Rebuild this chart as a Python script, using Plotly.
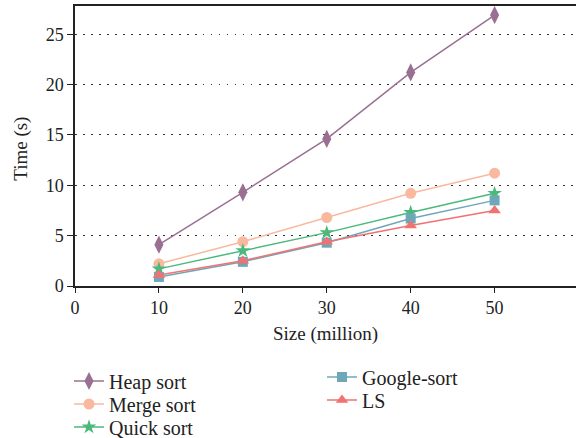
import plotly.graph_objects as go

# Array size in millions of elements
sizes = [10, 20, 30, 40, 50]

# Sorting times in seconds
heap_sort = [4.1, 9.3, 14.6, 21.2, 26.9]
merge_sort = [2.2, 4.4, 6.8, 9.2, 11.2]
quick_sort = [1.7, 3.5, 5.3, 7.3, 9.2]
google_sort = [0.9, 2.4, 4.3, 6.7, 8.5]
ls_sort = [1.1, 2.5, 4.4, 6.0, 7.5]

x_ticks = [0, 10, 20, 30, 40, 50]
y_ticks = [0, 5, 10, 15, 20, 25]

FONT = "Liberation Serif"
INK = "#222222"
W, H = 576, 438
ML, MT, MB = 75, 6, 152

# name, values, colour, marker, marker size, legend slot (left px, centre px)
series = [
    ("Heap sort", heap_sort, "#9a7092", "diamond-tall", 13, (69, 381)),
    ("Merge sort", merge_sort, "#f9b99e", "circle", 11, (69, 404)),
    ("Quick sort", quick_sort, "#4bb97c", "star", 11, (69, 427)),
    ("Google-sort", google_sort, "#6ea7b8", "square", 10, (322, 377)),
    ("LS", ls_sort, "#f07272", "triangle-up", 11, (322, 400)),
]

fig = go.Figure()
legend_font = dict(family=FONT, size=20, color=INK)
legends = {}
for i, (name, vals, color, symbol, size, (lx, ly)) in enumerate(series):
    key = "legend" if i == 0 else f"legend{i + 1}"
    fig.add_trace(go.Scatter(
        x=sizes, y=vals, name=name, mode="lines+markers",
        line=dict(color=color, width=1.5),
        marker=dict(symbol=symbol, size=size, color=color),
        legend=key,
    ))
    legends[key] = dict(
        x=lx / W, xref="container", y=1 - ly / H, yref="container",
        xanchor="left", yanchor="middle", font=legend_font,
        bgcolor="rgba(0,0,0,0)", borderwidth=0,
    )

fig.update_layout(
    width=W, height=H,
    margin=dict(l=ML, r=0, t=MT, b=MB, autoexpand=False),
    plot_bgcolor="white", paper_bgcolor="white",
    font=dict(family=FONT, size=18, color=INK),
    showlegend=True,
    **legends,
)

# Vertical axis title placed beside the tick labels
fig.add_annotation(
    text="Time (s)", textangle=-90, showarrow=False,
    xref="paper", yref="paper", x=(21 - ML) / (W - ML), y=0.49,
    xanchor="center", yanchor="middle",
    font=dict(family=FONT, size=19, color=INK),
)

fig.update_xaxes(
    range=[0, 59.7], tickvals=x_ticks, ticktext=[str(v) for v in x_ticks],
    tickfont=dict(family=FONT, size=18, color=INK),
    showline=True, linecolor=INK, linewidth=1.5, mirror=True,
    ticks="outside", ticklen=5, tickcolor=INK,
    showgrid=False, zeroline=False,
    title=dict(text="Size (million)", font=dict(family=FONT, size=19, color=INK), standoff=9),
)
fig.update_yaxes(
    range=[0, 27.8], tickvals=y_ticks, ticktext=[str(v) for v in y_ticks],
    tickfont=dict(family=FONT, size=18, color=INK),
    showline=True, linecolor=INK, linewidth=1.5,
    ticks="outside", ticklen=6, tickcolor=INK,
    showgrid=True, gridcolor="#333333", gridwidth=1, griddash="1.5px,6.5px",
    zeroline=False,
)

fig.write_html("out.html")
